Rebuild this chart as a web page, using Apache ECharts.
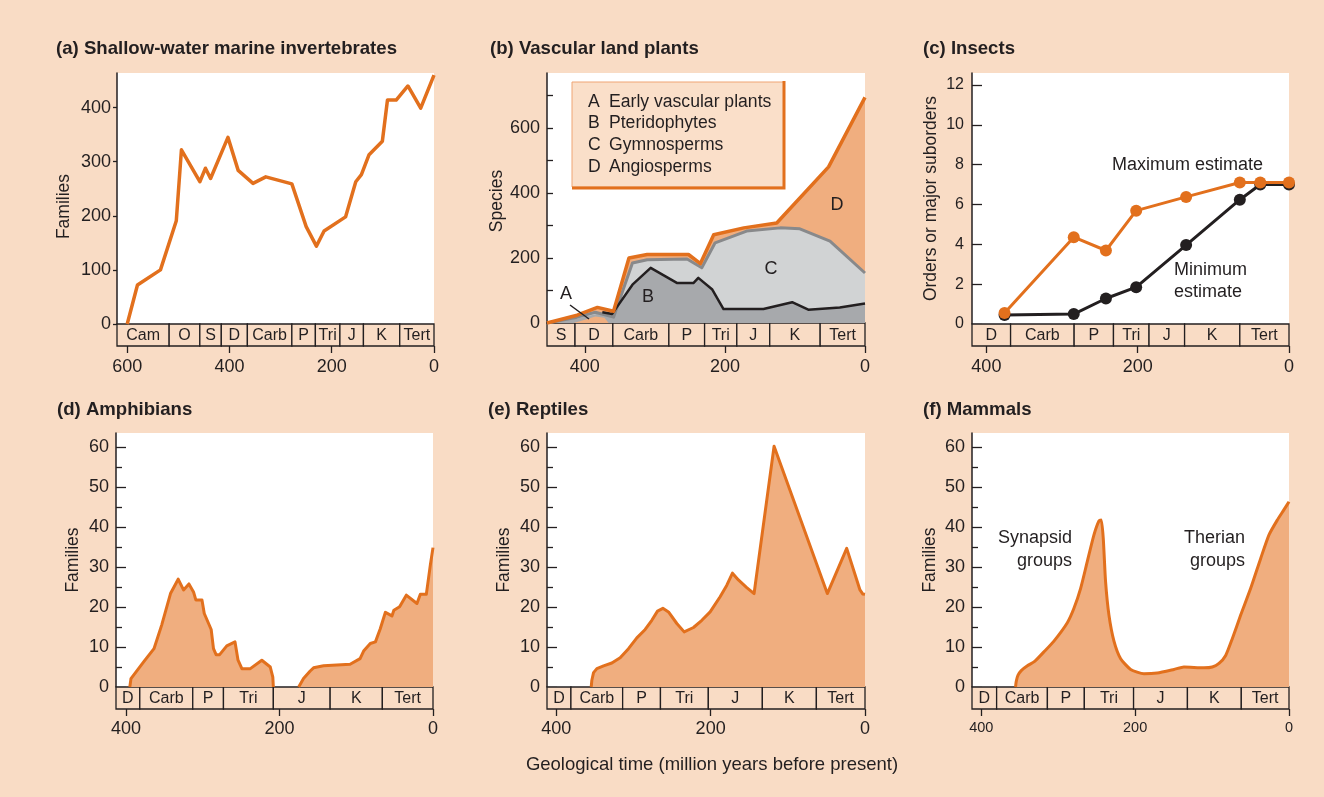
<!DOCTYPE html>
<html>
<head>
<meta charset="utf-8">
<script src="https://cdn.jsdelivr.net/npm/echarts@6/dist/echarts.min.js"></script>
<style>
  html, body { margin: 0; padding: 0; background: #F9DCC5; }
  #chart { width: 1324px; height: 797px; }
</style>
</head>
<body>
<div id="chart"></div>
<script>
// ---- Geological periods shown under each panel (names and edges in Myr) ----
const periodNamesA = ['Cam', 'O', 'S', 'D', 'Carb', 'P', 'Tri', 'J', 'K', 'Tert'];
const periodEdgesA = [620, 518, 458, 416, 365, 278, 232, 184, 138, 67, 0];
const periodNamesB = ['S', 'D', 'Carb', 'P', 'Tri', 'J', 'K', 'Tert'];
const periodEdgesB = [454, 414, 360, 280, 229, 183, 136, 64, 0];
const periodNamesLate = ['D', 'Carb', 'P', 'Tri', 'J', 'K', 'Tert'];
const periodEdgesC = [419, 368, 284, 232, 185, 138, 65, 0];
const periodEdgesD = [413, 382, 313, 273, 208, 134, 66, 0];
const periodEdgesE = [412, 381, 314, 265, 203, 133, 63, 0];
const periodEdgesF = [412, 380, 314, 266, 202, 132, 62, 0];

// ---- Tick values ----
const timeTicksA = [600, 400, 200, 0];
const timeTicks = [400, 200, 0];
const familyTicksA = [0, 100, 200, 300, 400];
const speciesTicks = [0, 100, 200, 300, 400, 500, 600, 700];
const speciesLabels = [0, 200, 400, 600];
const orderTicks = [0, 2, 4, 6, 8, 10, 12];
const familyTicks = [0, 10, 20, 30, 40, 50, 60];
const familyMinorTicks = [5, 15, 25, 35, 45, 55];

// ---- (a) Shallow-water marine invertebrates: [Myr before present, families] ----
const marineInvertebrates = [[600, 0], [580, 72], [535, 100], [504, 191], [494, 322], [458, 263], [447, 288],
  [437, 269], [403, 345], [383, 284], [354, 260], [329, 272], [278, 259], [250, 180], [230, 144], [215, 172],
  [173, 198], [153, 263], [142, 276], [127, 313], [101, 338], [91, 414], [74, 414], [51, 440], [26, 399], [0, 460]];

// ---- (b) Vascular land plants: cumulative species ----
const plantGroupLetters = ['A', 'B', 'C', 'D'];
const plantGroupNames = ['Early vascular plants', 'Pteridophytes', 'Gymnosperms', 'Angiosperms'];
const plantsTotal = [[454, 0], [411, 24], [382, 48], [359, 36], [337, 200], [311, 211], [252, 211], [235, 183],
  [216, 272], [173, 293], [126, 308], [52, 481], [0, 695]];
const gymnospermTop = [[454, 0], [411, 18], [385, 33], [359, 18], [332, 185], [311, 195], [254, 197], [233, 170],
  [214, 247], [169, 283], [121, 293], [93, 290], [50, 252], [0, 154]];
const pteridophyteEarly = [[454, 0], [411, 14], [385, 27]];
const pteridophyteTop = [[375, 33], [361, 28], [332, 118], [306, 170], [268, 123], [245, 123], [238, 139],
  [218, 103], [202, 43], [145, 43], [104, 64], [81, 41], [36, 48], [0, 60]];
const earlyVascular = [[416, 0], [400, 10], [385, 20], [372, 16], [366, 0]];

// ---- (c) Insects: orders or major suborders ----
const insectMax = [[376, 0.55], [284.5, 4.36], [242, 3.69], [202, 5.69], [136, 6.38], [65, 7.1], [38, 7.1], [0, 7.1]];
const insectMin = [[376, 0.45], [284.5, 0.5], [242, 1.28], [202, 1.85], [136, 3.96], [65, 6.24], [38, 7.0], [0, 7.0]];

// ---- (d) Amphibians (gap in the Jurassic) ----
const amphibians = [[395, 0], [393.5, 2.1], [377, 6.3], [363.5, 9.6], [353.5, 15.5], [342, 23.4], [332, 27],
  [325, 24.3], [318, 25.8], [312, 23.8], [309, 21.8], [301, 21.8], [298, 18.4], [289, 14.4], [286, 9.6],
  [282.6, 8.1], [278, 8.1], [268.7, 10.3], [258, 11.3], [254, 6.7], [249, 4.6], [238, 4.6], [223, 6.7],
  [212, 5.0], [208.7, 2.5], [208, 0], [190, null], [175, 0], [168.7, 2.1], [160, 4.0], [155.6, 4.8],
  [142.6, 5.3], [108, 5.7], [95, 7.1], [90.4, 9.0], [81.7, 10.9], [75, 11.3], [68.7, 14.6], [62, 18.7],
  [53.5, 17.8], [51, 19.2], [43.5, 20.1], [34.8, 23.0], [20.9, 20.9], [16.5, 23.2], [8.7, 23.2],
  [3.5, 30.5], [0, 34.9]];

// ---- (e) Reptiles ----
const reptiles = [[354.7, 0], [353.9, 1.7], [351.7, 3.6], [347.4, 4.6], [338.7, 5.3], [328, 6.0], [317.2, 7.3],
  [306.4, 9.6], [295.6, 12.3], [284.8, 14.4], [276.2, 16.7], [268.8, 19.0], [261.9, 19.7], [254.6, 18.8],
  [243.8, 15.9], [234.3, 13.8], [222.2, 14.9], [211.4, 16.7], [200.6, 18.8], [187.7, 22.6], [179, 25.5],
  [171.7, 28.5], [164, 26.8], [153.2, 24.9], [143.7, 23.4], [117.8, 60.3], [48.8, 23.4], [23.7, 34.7],
  [6.5, 24.3], [3, 23.3], [0, 23.2]];

// ---- (f) Mammals ----
const mammals = [[355.4, 0], [354.5, 1.4], [352.3, 2.9], [348, 4.1], [340, 5.3], [330.6, 6.4], [318.5, 8.8],
  [305.5, 11.5], [288.1, 16.1], [279.5, 19.7], [270.8, 24.7], [262.2, 31.4], [253.5, 38.1], [247, 41.6],
  [244, 41.8], [241.4, 37.2], [238.4, 26.4], [234, 18], [227.5, 11.5], [218.8, 7.1], [205.8, 4.4],
  [188.5, 3.3], [171.2, 3.5], [149.5, 4.4], [136.5, 5.0], [110.5, 4.8], [99.7, 5.0], [91, 5.9], [82.3, 7.9],
  [73.7, 12.1], [62.8, 18], [49.8, 24.7], [36.8, 32.2], [26, 38.1], [15.2, 41.8], [6.5, 44.4], [0, 46.4]];

// ---- Styling ----
const INK = '#231F20';
const ORANGE = '#E2701D';
const FILL = '#F0AE7F';
const PEACH = '#F9DCC5';
const GRAY_LIGHT = '#D1D3D4';
const GRAY_DARK = '#A7A9AC';
const GRAY_LINE = '#88898B';
const FONT = '"Liberation Sans", Arial, Helvetica, sans-serif';

const grids = [], xAxes = [], yAxes = [], series = [], graphic = [];

// Period strip drawn under a panel: one boxed cell per period
function bandRenderer(names) {
  return function (params, api) {
    const a = api.coord([api.value(0), 1]);
    const b = api.coord([api.value(1), 0]);
    const x = Math.min(a[0], b[0]), w = Math.abs(b[0] - a[0]);
    const y = Math.min(a[1], b[1]), h = Math.abs(b[1] - a[1]);
    return {
      type: 'group',
      children: [
        { type: 'rect', shape: { x: x, y: y, width: w, height: h },
          style: { fill: PEACH, stroke: INK, lineWidth: 1.3 } },
        { type: 'text', style: { text: names[params.dataIndex], x: x + w / 2, y: y + h / 2 + 1,
          align: 'center', verticalAlign: 'middle', font: '16px ' + FONT, fill: INK } }
      ]
    };
  };
}

function addPanel(p) {
  const gi = grids.length;
  grids.push({ left: p.left, top: p.top, width: p.width, height: p.height, show: true,
    backgroundColor: '#ffffff', borderWidth: 0 });
  grids.push({ left: p.left, top: p.top + p.height, width: p.width, height: p.band });

  xAxes.push({ gridIndex: gi, type: 'value', min: 0, max: p.xMax, inverse: true, show: false });
  xAxes.push({ gridIndex: gi + 1, type: 'value', min: 0, max: p.xMax, inverse: true, position: 'bottom',
    axisLine: { show: false, onZero: false }, splitLine: { show: false },
    axisTick: { show: true, customValues: p.xTicks, length: 7, lineStyle: { color: INK, width: 1.3 } },
    axisLabel: { customValues: p.xTicks, margin: p.xLabelMargin, color: INK, fontSize: p.xLabelSize || 18,
      fontFamily: FONT } });

  const yi = yAxes.length;
  yAxes.push({ gridIndex: gi, type: 'value', min: 0, max: p.yMax, position: 'left',
    name: p.yName, nameLocation: 'middle', nameGap: p.nameGap, nameRotate: 90,
    nameTextStyle: { color: INK, fontSize: 17.5, fontFamily: FONT, padding: p.namePadding || 0 },
    axisLine: { show: true, onZero: false, lineStyle: { color: INK, width: 1.5 } },
    axisTick: { show: true, inside: p.tickInside, length: p.tickLen, customValues: p.yTicks,
      lineStyle: { color: INK, width: 1.3 } },
    axisLabel: { customValues: p.yLabels, margin: p.yLabelMargin, color: INK, fontSize: p.yLabelSize || 18,
      fontFamily: FONT },
    splitLine: { show: false } });
  yAxes.push({ gridIndex: gi + 1, type: 'value', min: 0, max: 1, show: false });
  if (p.yMinor) {
    yAxes.push({ gridIndex: gi, type: 'value', min: 0, max: p.yMax, position: 'left',
      axisLine: { show: false, onZero: false },
      axisTick: { show: true, inside: true, length: 6, customValues: p.yMinor,
        lineStyle: { color: INK, width: 1.3 } },
      axisLabel: { show: false }, splitLine: { show: false } });
  }

  const cells = p.periodNames.map((n, i) => [p.periodEdges[i], p.periodEdges[i + 1], 0.5]);
  series.push({ type: 'custom', xAxisIndex: gi + 1, yAxisIndex: yi + 1, silent: true,
    encode: { x: [0, 1], y: 2 }, renderItem: bandRenderer(p.periodNames), data: cells });

  return { xAxisIndex: gi, yAxisIndex: yi };
}

function areaSeries(ax, data, lineColor, fillColor, lineWidth, z, smooth) {
  return Object.assign({ type: 'line', data: data, showSymbol: false, silent: true, smooth: smooth || false,
    z: z, lineStyle: { color: lineColor, width: lineWidth, join: 'round' },
    itemStyle: { color: lineColor },
    areaStyle: fillColor ? { color: fillColor, opacity: 1 } : undefined }, ax);
}

// (a)
const axA = addPanel({ left: 117, top: 73, width: 317, height: 251, band: 22, xMax: 620, xTicks: timeTicksA,
  xLabelMargin: 12, yMax: 464, yTicks: familyTicksA, yLabels: familyTicksA, tickInside: false, tickLen: 4,
  yLabelMargin: 6, yName: 'Families', nameGap: 44, namePadding: [0, 16, 0, 0],
  periodNames: periodNamesA, periodEdges: periodEdgesA });
series.push(areaSeries(axA, marineInvertebrates, ORANGE, null, 3.5, 3));

// (b)
const axB = addPanel({ left: 547, top: 73, width: 318, height: 250, band: 23, xMax: 454, xTicks: timeTicks,
  xLabelMargin: 12, yMax: 770, yTicks: speciesTicks, yLabels: speciesLabels, tickInside: true, tickLen: 6,
  yLabelMargin: 7, yName: 'Species', nameGap: 41, namePadding: [0, 6, 0, 0],
  periodNames: periodNamesB, periodEdges: periodEdgesB });
series.push(areaSeries(axB, plantsTotal, ORANGE, FILL, 0, 2));
series.push(areaSeries(axB, gymnospermTop, GRAY_LINE, GRAY_LIGHT, 0, 2));
series.push(areaSeries(axB, pteridophyteEarly.concat(pteridophyteTop), INK, GRAY_DARK, 0, 2));
series.push(areaSeries(axB, earlyVascular, ORANGE, FILL, 0, 2));
series.push(areaSeries(axB, gymnospermTop, GRAY_LINE, null, 3, 3));
series.push(areaSeries(axB, pteridophyteTop, INK, null, 2.5, 3));
series.push(areaSeries(axB, plantsTotal, ORANGE, null, 3.5, 4));

// (c)
const axC = addPanel({ left: 972, top: 73, width: 317, height: 251, band: 22, xMax: 419, xTicks: timeTicks,
  xLabelMargin: 12, yMax: 12.6, yTicks: orderTicks, yLabels: orderTicks, tickInside: true, tickLen: 10,
  yLabelMargin: 8, yLabelSize: 16, yName: 'Orders or major suborders', nameGap: 32,
  periodNames: periodNamesLate, periodEdges: periodEdgesC });
series.push(Object.assign({ type: 'line', data: insectMin, symbol: 'circle', symbolSize: 12, showSymbol: true,
  silent: true, z: 3, lineStyle: { color: INK, width: 3 }, itemStyle: { color: INK } }, axC));
series.push(Object.assign({ type: 'line', data: insectMax, symbol: 'circle', symbolSize: 12, showSymbol: true,
  silent: true, z: 4, lineStyle: { color: ORANGE, width: 3 }, itemStyle: { color: ORANGE } }, axC));

// (d)
const axD = addPanel({ left: 116, top: 433, width: 317, height: 254, band: 22, xMax: 413, xTicks: timeTicks,
  xLabelMargin: 11, yMax: 63.6, yTicks: familyTicks, yLabels: familyTicks, yMinor: familyMinorTicks,
  tickInside: true, tickLen: 10, yLabelMargin: 7, yName: 'Families', nameGap: 34,
  periodNames: periodNamesLate, periodEdges: periodEdgesD });
series.push(areaSeries(axD, amphibians, ORANGE, FILL, 3, 3));

// (e)
const axE = addPanel({ left: 547, top: 433, width: 318, height: 254, band: 22, xMax: 412, xTicks: timeTicks,
  xLabelMargin: 11, yMax: 63.6, yTicks: familyTicks, yLabels: familyTicks, yMinor: familyMinorTicks,
  tickInside: true, tickLen: 10, yLabelMargin: 7, yName: 'Families', nameGap: 34,
  periodNames: periodNamesLate, periodEdges: periodEdgesE });
series.push(areaSeries(axE, reptiles, ORANGE, FILL, 3, 3));

// (f)
const axF = addPanel({ left: 972, top: 433, width: 317, height: 254, band: 22, xMax: 412, xTicks: timeTicks,
  xLabelMargin: 11, xLabelSize: 14.5, yMax: 63.6, yTicks: familyTicks, yLabels: familyTicks,
  yMinor: familyMinorTicks, tickInside: true, tickLen: 10, yLabelMargin: 7, yName: 'Families', nameGap: 33,
  periodNames: periodNamesLate, periodEdges: periodEdgesF });
series.push(areaSeries(axF, mammals, ORANGE, FILL, 3, 3, 0.2));

// ---- Text ----
function text(str, x, y, size, opts) {
  opts = opts || {};
  graphic.push({ type: 'text', x: x, y: y, z: 100, silent: true,
    style: { text: str, font: (opts.bold ? 'bold ' : '') + size + 'px ' + FONT, fill: INK,
      align: opts.align || 'left', verticalAlign: 'middle' } });
}
text('(a) Shallow-water marine invertebrates', 56, 49, 18.6, { bold: true });
text('(b) Vascular land plants', 490, 49, 18.6, { bold: true });
text('(c) Insects', 923, 49, 18.6, { bold: true });
text('(d) Amphibians', 57, 410, 18.6, { bold: true });
text('(e) Reptiles', 488, 410, 18.6, { bold: true });
text('(f) Mammals', 923, 410, 18.6, { bold: true });
text('Geological time (million years before present)', 712, 765, 18.5, { align: 'center' });

// (b) key box and area letters
graphic.push({ type: 'rect', z: 90, silent: true, shape: { x: 572, y: 82, width: 212, height: 105 },
  style: { fill: '#FADFC9', stroke: '#EFA574', lineWidth: 1 } });
graphic.push({ type: 'polyline', z: 91, silent: true, shape: { points: [[784, 81], [784, 188], [572, 188]] },
  style: { stroke: ORANGE, lineWidth: 3, fill: null } });
plantGroupLetters.forEach((l, i) => {
  const y = 101.7 + i * 21.9;
  text(l, 588, y, 17.6);
  text(plantGroupNames[i], 609, y, 17.6);
});
text('A', 566, 294, 18, { align: 'center' });
text('B', 648, 297, 18, { align: 'center' });
text('C', 771, 269, 18, { align: 'center' });
text('D', 837, 205, 18, { align: 'center' });
graphic.push({ type: 'line', z: 100, silent: true, shape: { x1: 570, y1: 305, x2: 589, y2: 319 },
  style: { stroke: INK, lineWidth: 1.5 } });

// (c) estimate labels
text('Maximum estimate', 1112, 165, 18);
text('Minimum', 1174, 270, 18);
text('estimate', 1174, 292, 18);

// (f) group labels
text('Synapsid', 1072, 538, 18, { align: 'right' });
text('groups', 1072, 561, 18, { align: 'right' });
text('Therian', 1245, 538, 18, { align: 'right' });
text('groups', 1245, 561, 18, { align: 'right' });

const chart = echarts.init(document.getElementById('chart'), null, { renderer: 'canvas', width: 1324, height: 797 });
chart.setOption({
  backgroundColor: PEACH,
  animation: false,
  textStyle: { fontFamily: FONT },
  grid: grids,
  xAxis: xAxes,
  yAxis: yAxes,
  series: series,
  graphic: graphic
});
</script>
</body>
</html>
